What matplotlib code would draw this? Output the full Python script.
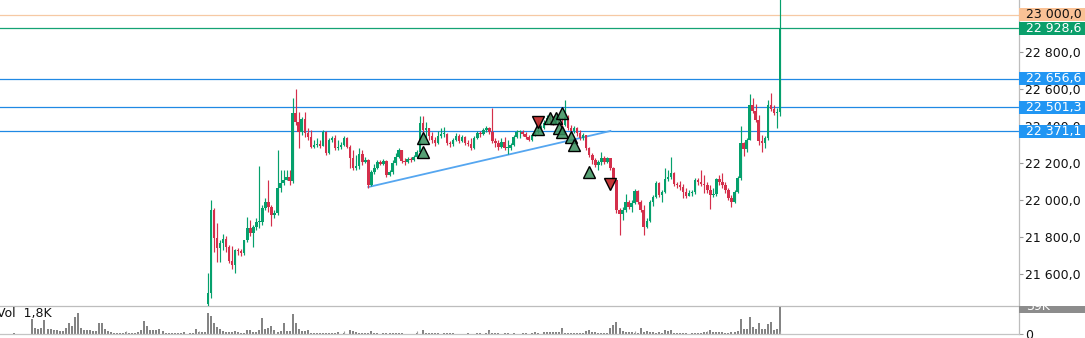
import numpy as np
import matplotlib
matplotlib.use("Agg")
import matplotlib.pyplot as plt
from matplotlib.patches import Rectangle
from matplotlib.transforms import blended_transform_factory, Bbox, TransformedBbox

# candles (one per bar, open = previous close)
first_open = 21440
close = [
    21497, 21946, 21795, 21741, 21768, 21789, 21746, 21670, 21649, 21730,
    21724, 21714, 21784, 21849, 21822, 21854, 21881, 21881, 21957, 21989,
    21962, 21919, 21930, 22065, 22092, 22108, 22124, 22103, 22470, 22422,
    22368, 22438, 22362, 22341, 22286, 22297, 22303, 22292, 22368, 22254,
    22324, 22335, 22281, 22286, 22297, 22335, 22286, 22227, 22173, 22184,
    22249, 22205, 22216, 22081, 22151, 22173, 22205, 22195, 22211, 22135,
    22151, 22200, 22232, 22270, 22211, 22205, 22222, 22216, 22232, 22259,
    22416, 22378, 22389, 22346, 22324, 22308, 22346, 22357, 22357, 22308,
    22303, 22324, 22346, 22319, 22341, 22308, 22303, 22281, 22335, 22362,
    22357, 22378, 22389, 22368, 22319, 22308, 22286, 22313, 22281, 22281,
    22297, 22341, 22368, 22368, 22357, 22341, 22324, 22351, 22368, 22378,
    22389, 22416, 22443, 22432, 22416, 22443, 22422, 22405, 22449, 22389,
    22373, 22389, 22362, 22335, 22351, 22281, 22243, 22216, 22189, 22205,
    22227, 22205, 22227, 22173, 22108, 21946, 21924, 21946, 21989, 21962,
    21984, 22049, 21989, 21946, 21854, 21886, 21989, 22016, 22092, 22027,
    22043, 22114, 22124, 22146, 22086, 22081, 22070, 22043, 22022, 22038,
    22043, 22108, 22097, 22086, 22081, 22054, 22027, 22032, 22114, 22097,
    22081, 22054, 22011, 21989, 22043, 22119, 22308, 22276, 22324, 22513,
    22481, 22432, 22319, 22308, 22335, 22513, 22492, 22470, 22476, 22928.6,
]
high = [
    21605, 22000, 21957, 21876, 21784, 21816, 21805, 21757, 21751, 21735,
    21741, 21735, 21784, 21908, 21892, 21865, 21903, 22184, 21973, 22011,
    22108, 21973, 21946, 22270, 22162, 22162, 22162, 22162, 22551, 22600,
    22476, 22449, 22476, 22389, 22378, 22324, 22335, 22324, 22378, 22373,
    22335, 22346, 22351, 22324, 22313, 22346, 22341, 22297, 22270, 22243,
    22281, 22270, 22232, 22222, 22162, 22195, 22216, 22216, 22222, 22216,
    22162, 22216, 22254, 22281, 22270, 22227, 22232, 22232, 22243, 22270,
    22454, 22454, 22422, 22389, 22368, 22341, 22373, 22389, 22395, 22362,
    22319, 22335, 22362, 22357, 22351, 22346, 22324, 22335, 22346, 22373,
    22373, 22389, 22400, 22395, 22497, 22335, 22324, 22335, 22341, 22324,
    22308, 22351, 22378, 22378, 22378, 22368, 22351, 22362, 22378, 22432,
    22405, 22432, 22459, 22465, 22454, 22459, 22449, 22443, 22541, 22459,
    22405, 22400, 22395, 22378, 22362, 22351, 22286, 22254, 22227, 22216,
    22259, 22238, 22232, 22227, 22178, 22108, 21957, 21962, 22032, 22000,
    22000, 22059, 22054, 22000, 21973, 21903, 22000, 22027, 22103, 22097,
    22054, 22173, 22162, 22232, 22151, 22097, 22103, 22086, 22065, 22054,
    22054, 22119, 22119, 22162, 22135, 22097, 22081, 22065, 22119, 22135,
    22146, 22097, 22065, 22027, 22054, 22130, 22400, 22313, 22335, 22573,
    22551, 22519, 22459, 22351, 22346, 22541, 22578, 22513, 22497, 23150,
]
low = [
    21405, 21470, 21719, 21665, 21665, 21730, 21719, 21659, 21627, 21605,
    21703, 21697, 21703, 21773, 21805, 21746, 21838, 21849, 21865, 21946,
    21935, 21859, 21903, 21919, 22043, 22081, 22108, 22081, 22092, 22405,
    22281, 22351, 22341, 22324, 22281, 22281, 22286, 22281, 22292, 22243,
    22249, 22313, 22270, 22270, 22276, 22292, 22281, 22173, 22162, 22162,
    22168, 22189, 22200, 22065, 22076, 22141, 22168, 22189, 22189, 22124,
    22130, 22141, 22189, 22227, 22200, 22189, 22200, 22205, 22211, 22227,
    22254, 22351, 22335, 22324, 22308, 22292, 22303, 22335, 22341, 22297,
    22286, 22292, 22319, 22308, 22313, 22297, 22292, 22270, 22276, 22330,
    22341, 22351, 22368, 22357, 22308, 22286, 22270, 22281, 22270, 22249,
    22270, 22292, 22335, 22335, 22346, 22330, 22319, 22319, 22346, 22362,
    22368, 22384, 22411, 22411, 22405, 22411, 22405, 22395, 22400, 22378,
    22362, 22362, 22346, 22324, 22324, 22270, 22232, 22195, 22178, 22162,
    22189, 22195, 22200, 22162, 22097, 21930, 21811, 21892, 21935, 21951,
    21935, 21978, 21978, 21935, 21811, 21848, 21881, 21968, 22011, 22016,
    21989, 22038, 22103, 22114, 22076, 22065, 22054, 22011, 22011, 22022,
    22022, 22032, 22081, 22076, 22038, 22038, 21951, 22016, 22022, 22081,
    22065, 22038, 22000, 21962, 21984, 22038, 22108, 22238, 22259, 22324,
    22470, 22422, 22297, 22259, 22281, 22324, 22481, 22459, 22389, 22454,
]

# volume in thousands: bars before the first visible candle, then one per candle
vol_before = [
    1, 0, 0, 0, 0, 0, 21, 8, 7, 9, 20, 7, 7, 6, 5, 4, 4, 8, 15, 11,
    24, 30, 9, 6, 6, 5, 4, 4, 15, 15, 7, 4, 3, 2, 1.5, 2, 1.5, 3, 1.5, 1.5,
    1.5, 3, 5, 19, 12, 5, 5, 5, 7, 4, 2, 1.5, 1.5, 1.5, 1.5, 1.5, 3, 0, 1, 1.5,
    7, 3, 3, 3,
]
vol = [
    30, 26, 15, 10, 7, 4, 3, 3, 3, 4,
    3, 2, 2, 5, 5, 3, 3, 6, 23, 7,
    8, 12, 5, 3, 4, 16, 4, 4, 28, 15,
    7, 4, 4, 5, 2, 2, 2, 2, 1.5, 1.5,
    1.5, 1.5, 2, 3, 0, 2, 0, 5, 4, 3,
    2, 1.5, 1.5, 2, 4, 1.5, 1, 0, 1.5, 1.5,
    1.5, 1.5, 1.5, 1.5, 1.5, 0, 0, 0, 0, 1,
    0, 5, 1.5, 2, 1.5, 1, 1, 0, 1, 1,
    1, 1, 0, 0, 0, 0, 1, 0, 0, 1,
    1, 0, 1, 5, 1.5, 1.5, 1.5, 0, 1.5, 2,
    0, 1, 0, 0, 1, 1, 0, 1.5, 3, 2,
    0, 3, 3, 3, 3, 3, 3, 8, 1.5, 1.5,
    1.5, 1.5, 1.5, 1.5, 1.5, 4, 5, 3, 3, 2,
    2, 2, 2, 8, 13, 17, 8, 4, 3, 3,
    3, 1.5, 2, 9, 3, 4, 3, 3, 2, 3,
    1, 5, 4, 5, 2, 1.5, 1.5, 1.5, 1.5, 0,
    1.5, 1.5, 1.5, 1.5, 3, 3, 5, 3, 3, 3,
    3, 2, 2, 3, 3, 4, 21, 7, 7, 24,
    10, 7, 16, 7, 7, 14, 17, 6, 7, 38,
]

levels = [22656.6, 22501.3, 22371.1]
last_price = 22928.6
round_level = 23000
trend_x = [53, 133]
trend_y = [22070, 22373]
buy_x = [71, 71, 109, 113, 115, 117, 116, 117, 120, 121, 126]
buy_y = [22335, 22259, 22384, 22443, 22443, 22470, 22389, 22368, 22341, 22297, 22151]
sell_x = [109, 133]
sell_y = [22422, 22087]
vol_label = "Vol  1,8K"
vol_max_label = "39K"

W, H = 1085, 338
green = "#05a06c"
red = "#d42f4b"
blue = "#2089e4"
axis_col = "#bdbdbd"

fig = plt.figure(figsize=(W / 100, H / 100), dpi=100)
ax = fig.add_axes([0, 32 / H, 1019 / W, 306 / H])
axv = fig.add_axes([0, 4 / H, 1019 / W, 28 / H], sharex=ax)

close = np.array(close, dtype=float)
opens = np.r_[first_open, close[:-1]]
idx = np.arange(len(close))
cols = np.where(close >= opens, green, red)

ax.vlines(idx, low, high, colors=cols, lw=0.85, zorder=3)
ax.bar(idx, np.maximum(np.abs(close - opens), 5), bottom=np.minimum(opens, close),
       width=0.82, color=cols, lw=0, zorder=3)

# levels
ax.axhline(round_level, color="#f6c9a4", lw=0.9, zorder=2)
ax.axhline(last_price, color="#14a374", lw=0.9, zorder=2)
for lv in levels:
    ax.axhline(lv, color=blue, lw=0.9, zorder=2)

ax.plot(trend_x, trend_y, color="#55a6f0", lw=1.3, zorder=2)

ax.plot(buy_x, buy_y, "^", ls="none", ms=9, mfc=(0.22, 0.56, 0.36, 0.85),
        mec="black", mew=1.0, zorder=6)
ax.plot(sell_x, sell_y, "v", ls="none", ms=9, mfc=(0.76, 0.18, 0.18, 0.95),
        mec="black", mew=1.0, zorder=7)

ax.set_xlim(-68.7, 268.0)
ax.set_ylim(21427, 23081)


def fmt(v):
    return f"{v:,.1f}".replace(",", " ").replace(".", ",")


ax.yaxis.tick_right()
ax.set_yticks(np.arange(21600, 23001, 200))
ax.set_yticklabels([fmt(v) for v in np.arange(21600, 23001, 200)])
ax.tick_params(axis="y", length=3, width=0.8, color="#9a9a9a", pad=1.5,
               labelsize=9, labelcolor="#111111")
ax.tick_params(axis="x", bottom=False, labelbottom=False)
for s in ["top", "left"]:
    ax.spines[s].set_visible(False)
ax.spines["right"].set_color(axis_col)
ax.spines["bottom"].set_color(axis_col)
ax.spines["right"].set_linewidth(0.9)
ax.spines["bottom"].set_linewidth(0.9)
ax.patch.set_alpha(0)

# price tags on the right scale
y0, y1 = ax.get_ylim()
half = 6.5 * (y1 - y0) / 306
tr = blended_transform_factory(ax.transAxes, ax.transData)
tags = [(round_level, "#f9c195", "#111111"),
        (last_price, "#0b9f6b", "white")] + [(lv, "#2196f3", "white") for lv in levels]
for val, fc, tc in tags:
    ax.add_patch(Rectangle((1.0, val - half), 66 / 1019, 2 * half, transform=tr,
                           fc=fc, ec="none", clip_on=False, zorder=10))
    ax.text(1.0 + 7 / 1019, val, fmt(val), transform=tr, va="center", ha="left",
            color=tc, fontsize=9, zorder=11, clip_on=False)

# volume panel
vals = list(vol_before) + list(vol)
vidx = np.arange(-len(vol_before), len(vol))
axv.bar(vidx, vals, width=0.66, color="#848484", lw=0)
axv.set_ylim(0, 39.6)
axv.yaxis.tick_right()
axv.set_yticks([0])
axv.set_yticklabels(["0"])
axv.tick_params(axis="y", length=3, width=0.8, color="#9a9a9a", pad=1.5,
                labelsize=9, labelcolor="#111111")
axv.set_xticks(np.arange(len(close) - 1, -70, -24))
axv.tick_params(axis="x", direction="in", length=2.5, width=0.8, color="#a0a0a0",
                labelbottom=False)
for s in ["top", "left"]:
    axv.spines[s].set_visible(False)
axv.spines["right"].set_color(axis_col)
axv.spines["bottom"].set_color("#c4c4c4")
axv.spines["right"].set_linewidth(0.9)
axv.spines["bottom"].set_linewidth(0.9)
axv.patch.set_alpha(0)

axv.text(-3 / 1019, 0.74, vol_label, transform=axv.transAxes, fontsize=9,
         va="center", ha="left", color="#111111")

clip = TransformedBbox(Bbox([[1019 / W, 4 / H], [1.0, 32 / H]]), fig.transFigure)
vtr = blended_transform_factory(axv.transAxes, axv.transData)
vhalf = 6.5 * 39.6 / 28
r = Rectangle((1.0, 39 - vhalf), 66 / 1019, 2 * vhalf, transform=vtr,
              fc="#8c8c8c", ec="none", zorder=10)
axv.add_patch(r)
r.set_clip_box(clip)
t = axv.text(1.0 + 7 / 1019, 39, vol_max_label, transform=vtr, va="center",
             ha="left", color="white", fontsize=9, zorder=11)
t.set_clip_box(clip)

fig.savefig("out.png", dpi=100)
